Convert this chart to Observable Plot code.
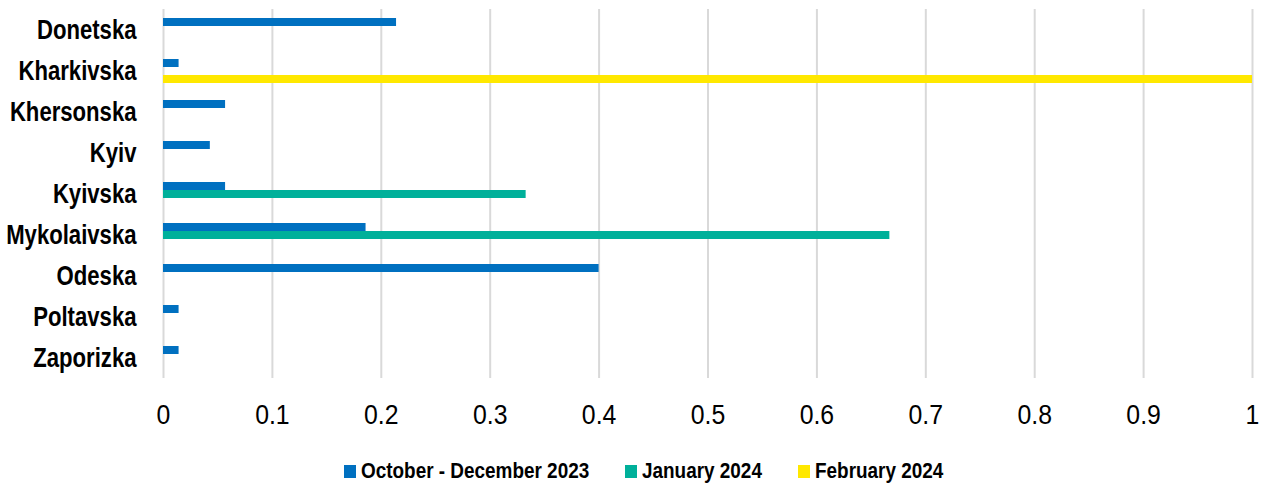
<!DOCTYPE html>
<html>
<head>
<meta charset="utf-8">
<script src="https://cdn.jsdelivr.net/npm/d3@7"></script>
<script src="https://cdn.jsdelivr.net/npm/@observablehq/plot@0.6"></script>
<style>
  html, body { margin: 0; padding: 0; background: #fff; }
  body { width: 1268px; height: 483px; overflow: hidden; font-family: 'Liberation Sans', sans-serif; }
  #legend { display: flex; align-items: center; height: 14px; margin-top: 24px; padding-left: 344px; font-size: 22px; font-weight: bold; color: #000; white-space: nowrap; }
  .item { display: flex; align-items: center; margin-right: 36px; }
  .sw { width: 12px; height: 13px; margin-right: 5px; flex: none; }
  .lab { display: inline-block; transform-origin: left center; line-height: 14px; }
</style>
</head>
<body>
<div id="chart"></div>
<div id="legend"></div>
<script>
const regions = ["Donetska", "Kharkivska", "Khersonska", "Kyiv", "Kyivska", "Mykolaivska", "Odeska", "Poltavska", "Zaporizka"];
const seriesNames = ["October - December 2023", "January 2024", "February 2024"];
const octDec2023 = [0.214, 0.0143, 0.057, 0.043, 0.057, 0.186, 0.4, 0.0143, 0.0143];
const jan2024 = [0, 0, 0, 0, 0.333, 0.667, 0, 0, 0];
const feb2024 = [0, 1, 0, 0, 0, 0, 0, 0, 0];
const seriesColors = ["#0070C0", "#00B09A", "#FFE800"];
const xTicks = [0, 0.1, 0.2, 0.3, 0.4, 0.5, 0.6, 0.7, 0.8, 0.9, 1];

const seriesValues = [octDec2023, jan2024, feb2024];
const rows = [];
regions.forEach((r, i) => {
  seriesNames.forEach((s, j) => {
    rows.push({region: r, series: s, value: seriesValues[j][i]});
  });
});

const chart = Plot.plot({
  width: 1268,
  height: 440,
  marginLeft: 163,
  marginRight: 16,
  marginTop: 6,
  marginBottom: 59,
  style: {fontFamily: "'Liberation Sans', sans-serif", fontSize: "27px", color: "#000", background: "#fff"},
  x: {domain: [0, 1]},
  fy: {domain: regions, padding: 0},
  y: {domain: seriesNames, paddingInner: 0, paddingOuter: 0.95, axis: null},
  color: {domain: seriesNames, range: seriesColors},
  marks: [
    Plot.gridX(xTicks, {stroke: "#d9d9d9", strokeWidth: 2, strokeOpacity: 1}),
    Plot.barX(rows, {x: "value", y: "series", fy: "region", fill: "series"}),
    Plot.axisX({ticks: xTicks, tickSize: 0, tickPadding: 26, label: null, tickFormat: d3.format("~g"), fontSize: 27}),
    Plot.axisFy({anchor: "left", tickSize: 0, tickPadding: 27, label: null, fontWeight: "bold", fontSize: 28})
  ]
});
document.getElementById("chart").appendChild(chart);

// condense text (reference uses a condensed typeface)
function condense(selector, k) {
  chart.querySelectorAll(selector).forEach(t => {
    const w = t.getComputedTextLength();
    t.setAttribute("textLength", (w * k).toFixed(1));
    t.setAttribute("lengthAdjust", "spacingAndGlyphs");
  });
}
condense('g[aria-label="fy-axis tick label"] text', 0.79);
condense('g[aria-label="x-axis tick label"] text', 0.92);

const legend = document.getElementById("legend");
seriesNames.forEach((s, j) => {
  const it = document.createElement("div");
  it.className = "item";
  const sw = document.createElement("div");
  sw.className = "sw";
  sw.style.background = seriesColors[j];
  const t = document.createElement("span");
  t.className = "lab";
  t.textContent = s;
  it.appendChild(sw);
  it.appendChild(t);
  legend.appendChild(it);
});
const kL = 0.86;
legend.querySelectorAll(".lab").forEach(t => {
  const w = t.getBoundingClientRect().width;
  t.style.transform = `scaleX(${kL})`;
  t.style.marginRight = `${-(1 - kL) * w}px`;
});
</script>
</body>
</html>
